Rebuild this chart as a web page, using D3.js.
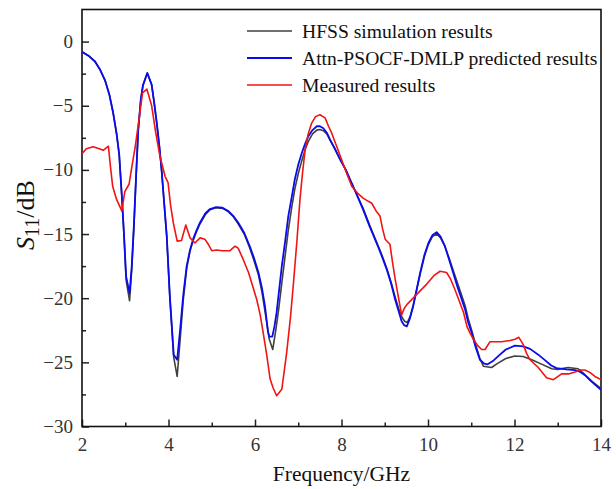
<!DOCTYPE html>
<html>
<head>
<meta charset="utf-8">
<script src="https://cdn.jsdelivr.net/npm/d3@7/dist/d3.min.js"></script>
<style>
body{margin:0;background:#fff;}
text{font-family:"Liberation Serif","Times New Roman",serif;}
</style>
</head>
<body>
<div id="chart"></div>
<script>

// 주파수 (GHz) / S11 (dB)
var hfssFreq = [2.00,2.15,2.30,2.42,2.53,2.63,2.72,2.80,2.86,2.92,2.97,3.02,3.10,3.15,3.20,3.25,3.30,3.36,3.41,3.51,3.61,3.67,3.73,3.79,3.84,3.90,3.96,4.03,4.12,4.20,4.27,4.34,4.42,4.50,4.57,4.65,4.73,4.85,4.96,5.10,5.25,5.38,5.50,5.61,5.75,5.88,5.98,6.08,6.16,6.23,6.33,6.41,6.48,6.55,6.62,6.70,6.77,6.85,6.92,7.00,7.08,7.16,7.23,7.33,7.43,7.50,7.58,7.66,7.73,7.85,7.97,8.10,8.20,8.35,8.50,8.65,8.81,8.93,9.05,9.15,9.24,9.32,9.40,9.46,9.52,9.59,9.66,9.74,9.82,9.92,10.01,10.10,10.20,10.29,10.39,10.48,10.58,10.68,10.78,10.86,10.93,11.01,11.10,11.20,11.28,11.47,11.60,11.80,12.01,12.20,12.40,12.60,12.86,13.00,13.24,13.47,13.58,13.67,13.80,14.00];
var hfssS11 = [-0.8,-1.1,-1.55,-2.2,-3.0,-4.1,-5.55,-7.2,-8.8,-12.0,-15.0,-18.6,-20.2,-17.8,-14.5,-10.6,-6.9,-4.5,-3.4,-2.45,-3.35,-4.8,-6.4,-8.2,-10.0,-12.6,-15.2,-19.9,-24.6,-26.1,-23.2,-20.2,-17.7,-16.3,-15.5,-14.8,-14.2,-13.5,-13.1,-12.95,-13.0,-13.25,-13.65,-14.2,-15.0,-16.1,-17.1,-18.2,-19.5,-21.0,-23.2,-24.0,-22.5,-20.8,-18.8,-16.6,-14.7,-12.9,-11.5,-10.3,-9.3,-8.4,-7.8,-7.2,-6.9,-6.85,-6.95,-7.2,-7.65,-8.35,-9.2,-10.0,-10.8,-11.9,-13.0,-14.3,-15.6,-16.6,-17.7,-18.8,-19.9,-20.8,-21.5,-21.8,-21.9,-21.4,-20.5,-19.3,-18.1,-16.7,-15.8,-15.2,-15.0,-15.3,-15.95,-16.8,-17.8,-18.8,-19.8,-20.6,-21.6,-22.5,-23.6,-24.7,-25.3,-25.4,-25.1,-24.7,-24.5,-24.55,-24.8,-25.1,-25.5,-25.55,-25.4,-25.5,-25.8,-26.1,-26.5,-27.05];

var predFreq = [2.00,2.15,2.30,2.42,2.53,2.63,2.72,2.80,2.86,2.92,2.97,3.02,3.10,3.15,3.20,3.25,3.30,3.36,3.41,3.51,3.61,3.67,3.73,3.79,3.84,3.90,3.96,4.03,4.12,4.20,4.27,4.34,4.42,4.50,4.57,4.65,4.73,4.85,4.96,5.10,5.25,5.38,5.50,5.61,5.75,5.88,5.98,6.08,6.16,6.23,6.30,6.33,6.40,6.45,6.50,6.56,6.62,6.70,6.77,6.85,6.92,7.00,7.08,7.16,7.23,7.33,7.43,7.50,7.58,7.66,7.73,7.85,7.97,8.10,8.20,8.35,8.50,8.65,8.81,8.93,9.05,9.15,9.24,9.32,9.39,9.45,9.51,9.58,9.66,9.74,9.82,9.92,10.01,10.10,10.20,10.29,10.39,10.48,10.58,10.68,10.78,10.86,10.93,11.01,11.10,11.20,11.30,11.38,11.50,11.63,11.80,12.01,12.20,12.36,12.55,12.71,12.85,12.97,13.20,13.40,13.52,13.63,13.75,13.88,14.00];
var predS11 = [-0.8,-1.1,-1.55,-2.2,-3.0,-4.1,-5.55,-7.2,-8.8,-12.0,-15.0,-18.3,-19.6,-17.5,-14.3,-10.5,-6.9,-4.5,-3.4,-2.45,-3.35,-4.8,-6.4,-8.2,-10.0,-12.6,-15.2,-19.8,-24.4,-24.8,-22.4,-19.8,-17.5,-16.2,-15.4,-14.7,-14.1,-13.4,-13.05,-12.9,-12.95,-13.2,-13.6,-14.1,-14.9,-15.95,-16.9,-18.0,-19.2,-20.6,-22.6,-23.0,-23.0,-22.2,-21.1,-19.3,-17.5,-15.5,-13.6,-12.1,-10.75,-9.6,-8.7,-7.95,-7.4,-6.9,-6.6,-6.6,-6.75,-7.1,-7.6,-8.4,-9.2,-10.0,-10.75,-11.9,-13.1,-14.4,-15.7,-16.7,-17.8,-18.9,-20.1,-21.0,-21.8,-22.1,-22.2,-21.6,-20.6,-19.3,-18.0,-16.6,-15.7,-15.1,-14.85,-15.2,-15.95,-16.9,-18.0,-19.1,-20.1,-20.9,-21.9,-22.7,-23.8,-24.8,-25.1,-25.15,-24.9,-24.5,-24.0,-23.7,-23.75,-23.95,-24.4,-24.85,-25.25,-25.45,-25.55,-25.6,-25.75,-26.0,-26.4,-26.8,-27.15];

var measFreq = [2.00,2.10,2.26,2.40,2.49,2.61,2.66,2.71,2.80,2.92,2.99,3.09,3.16,3.23,3.30,3.40,3.50,3.61,3.70,3.80,3.92,3.99,4.05,4.11,4.20,4.30,4.40,4.50,4.61,4.73,4.84,4.92,5.00,5.11,5.25,5.42,5.54,5.61,5.73,5.85,6.04,6.12,6.19,6.27,6.35,6.42,6.50,6.62,6.73,6.82,6.89,6.97,7.04,7.10,7.16,7.23,7.31,7.40,7.50,7.62,7.70,7.77,7.87,7.97,8.10,8.24,8.37,8.50,8.62,8.70,8.80,8.89,8.95,9.01,9.12,9.18,9.24,9.32,9.39,9.45,9.51,9.74,9.97,10.15,10.28,10.43,10.52,10.62,10.72,10.82,10.90,10.97,11.05,11.15,11.24,11.32,11.43,11.55,11.70,11.90,12.01,12.10,12.20,12.28,12.36,12.55,12.74,12.90,13.09,13.25,13.40,13.51,13.63,13.75,13.86,14.00];
var measS11 = [-8.75,-8.35,-8.2,-8.35,-8.47,-8.15,-9.8,-11.3,-12.3,-13.2,-11.7,-11.1,-9.6,-8.2,-6.5,-4.0,-3.7,-5.0,-7.0,-8.9,-10.5,-11.0,-12.8,-14.1,-15.55,-15.5,-14.3,-15.3,-15.7,-15.3,-15.4,-15.8,-16.3,-16.25,-16.3,-16.3,-15.95,-16.1,-17.0,-18.0,-20.1,-21.3,-22.7,-24.4,-26.3,-27.0,-27.6,-27.1,-24.3,-21.5,-18.8,-15.5,-12.3,-10.2,-8.4,-7.2,-6.35,-5.85,-5.7,-5.95,-6.6,-7.1,-8.0,-8.9,-10.1,-11.3,-11.8,-12.2,-12.45,-12.6,-13.2,-13.6,-14.6,-15.4,-15.8,-17.2,-18.5,-20.0,-21.3,-20.8,-20.5,-19.7,-18.9,-18.2,-17.9,-18.0,-18.5,-19.3,-20.2,-21.1,-22.2,-22.7,-23.2,-23.7,-24.0,-24.0,-23.4,-23.4,-23.4,-23.3,-23.2,-23.05,-23.6,-24.3,-24.8,-25.4,-26.2,-26.35,-25.9,-25.9,-25.75,-25.6,-25.6,-25.8,-26.1,-26.35];

var seriesNames = ["HFSS simulation results", "Attn-PSOCF-DMLP predicted results", "Measured results"];
var seriesColors = ["#404040", "#0a0af0", "#f01414"];

var xTicks = [2,4,6,8,10,12,14];
var xMinor = [3,5,7,9,11,13];
var yTicks = [-30,-25,-20,-15,-10,-5,0];
var yMinor = [-27.5,-22.5,-17.5,-12.5,-7.5,-2.5];

var W = 616, H = 489;
var margin = {top:9.5, right:15, bottom:62.5, left:82};
var width = W - margin.left - margin.right,
    height = H - margin.top - margin.bottom;

var svg = d3.select("#chart").append("svg")
    .attr("width", W)
    .attr("height", H);

var g = svg.append("g")
    .attr("transform", "translate(" + margin.left + "," + margin.top + ")");

var x = d3.scaleLinear().domain([2, 14]).range([0, width]);
var y = d3.scaleLinear().domain([-30, 2.5]).range([height, 0]);

/** 축 **/
g.append("g")
    .attr("transform", "translate(0," + height + ")")
    .call(d3.axisBottom(x).tickValues(xTicks).tickSizeInner(-7).tickSizeOuter(0).tickPadding(11));
g.append("g")
    .attr("transform", "translate(0," + height + ")")
    .call(d3.axisBottom(x).tickValues(xMinor).tickSizeInner(-4).tickSizeOuter(0).tickFormat(""));

g.append("g")
    .call(d3.axisLeft(y).tickValues(yTicks).tickSizeInner(-7).tickSizeOuter(0).tickPadding(9));
g.append("g")
    .call(d3.axisLeft(y).tickValues(yMinor).tickSizeInner(-4).tickSizeOuter(0).tickFormat(""));

g.selectAll(".domain").remove();
g.selectAll(".tick line").attr("stroke", "#222").attr("stroke-width", 1.5);
g.selectAll(".tick text").style("font-size", "19px").style("fill", "#333");

// 테두리
g.append("rect")
    .attr("x", 0).attr("y", 0)
    .attr("width", width).attr("height", height)
    .attr("fill", "none")
    .attr("stroke", "#111")
    .attr("stroke-width", 1.6);

/** 곡선 **/
var line = d3.line()
    .x(function(d){ return x(d[0]); })
    .y(function(d){ return y(d[1]); });

var series = [
    {name: seriesNames[0], color: seriesColors[0], w: 1.6, data: d3.zip(hfssFreq, hfssS11)},
    {name: seriesNames[1], color: seriesColors[1], w: 1.8, data: d3.zip(predFreq, predS11)},
    {name: seriesNames[2], color: seriesColors[2], w: 1.6, data: d3.zip(measFreq, measS11)}
];

svg.append("clipPath").attr("id", "clip")
    .append("rect").attr("width", width).attr("height", height);
var plot = g.append("g").attr("clip-path", "url(#clip)");

plot.selectAll(".curve")
    .data(series)
    .enter().append("path")
    .attr("class", "curve")
    .attr("fill", "none")
    .attr("stroke", function(d){ return d.color; })
    .attr("stroke-width", function(d){ return d.w; })
    .attr("stroke-linejoin", "round")
    .attr("d", function(d){ return line(d.data); });

/** 범례 **/
var legend = g.selectAll(".legend")
    .data(series)
    .enter().append("g")
    .attr("class", "legend")
    .attr("transform", function(d, i){ return "translate(" + (247 - margin.left) + "," + (31 + i*27 - margin.top) + ")"; });

legend.append("line")
    .attr("x1", 0).attr("x2", 45)
    .attr("y1", 0).attr("y2", 0)
    .attr("stroke", function(d){ return d.color; })
    .attr("stroke-width", function(d){ return d.w; });

legend.append("text")
    .attr("x", 55)
    .attr("y", 7)
    .style("font-size", "19.6px")
    .style("fill", "#111")
    .text(function(d){ return d.name; });

/** 축 제목 **/
g.append("text")
    .attr("x", width/2)
    .attr("y", height + 54)
    .attr("text-anchor", "middle")
    .style("font-size", "21.5px")
    .style("fill", "#111")
    .text("Frequency/GHz");

var yLabel = svg.append("text")
    .attr("transform", "translate(34,215) rotate(-90)")
    .attr("text-anchor", "middle")
    .style("font-size", "26px")
    .style("fill", "#111");
yLabel.append("tspan").style("font-style", "italic").text("S");
yLabel.append("tspan").attr("dy", 5).style("font-size", "20px").text("11");
yLabel.append("tspan").attr("dy", -5).text("/dB");

</script>
</body>
</html>
